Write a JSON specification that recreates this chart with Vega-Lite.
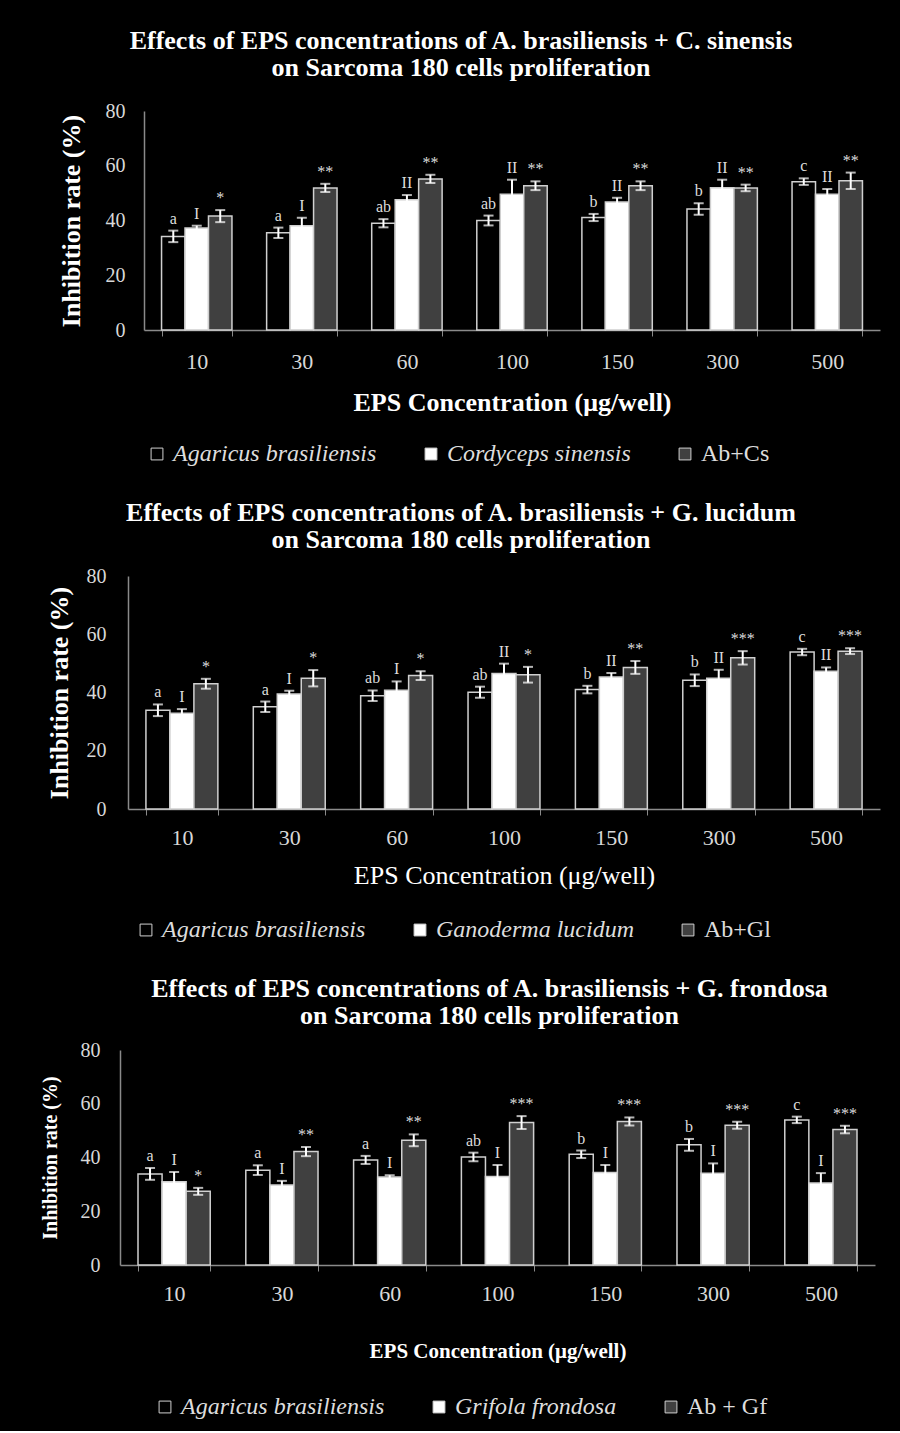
{
  "$schema": "https://vega.github.io/schema/vega-lite/v6.json",
  "background": "black",
  "padding": {"left": 40, "top": 28, "right": 21, "bottom": 12},
  "spacing": 34,
  "config": {
    "view": {"stroke": null},
    "font": "Liberation Serif",
    "title": {"font": "Liberation Serif", "fontWeight": "bold", "fontSize": 26, "color": "white", "lineHeight": 27, "anchor": "middle"},
    "axis": {"domainColor": "#8a8a8a", "domainWidth": 1.5, "labelColor": "#d8d8d8", "labelFont": "Liberation Serif", "titleFont": "Liberation Serif", "titleColor": "white", "grid": false},
    "axisY": {"ticks": false, "labelFontSize": 20, "titleFontWeight": "bold"},
    "axisX": {"tickBand": "extent", "tickColor": "#8a8a8a", "tickSize": 6, "labelAngle": 0, "labelFontSize": 22},
    "legend": {"orient": "none", "direction": "horizontal", "symbolType": "square", "symbolSize": 140, "symbolStrokeColor": "#d0d0d0", "symbolStrokeWidth": 1, "labelFont": "Liberation Serif", "labelFontSize": 24, "labelColor": "#dddddd", "labelLimit": 0, "labelOffset": 4, "columnPadding": 42, "title": null}
  },
  "vconcat": [
    {
      "width": 760, "height": 219,
      "title": {"text": ["Effects of EPS concentrations of A. brasiliensis + C. sinensis", "on  Sarcoma 180 cells proliferation"], "dx": -39, "offset": 20},
      "data": {"values": [
        {"conc": "10", "species": "Agaricus brasiliensis", "mean": 34.2, "lo": 32.1, "hi": 36.3, "sig": "a"},
        {"conc": "10", "species": "Cordyceps sinensis", "mean": 37.3, "lo": 36.5, "hi": 38.1, "sig": "I"},
        {"conc": "10", "species": "Ab+Cs", "mean": 41.6, "lo": 39.4, "hi": 43.8, "sig": "*"},
        {"conc": "30", "species": "Agaricus brasiliensis", "mean": 35.5, "lo": 33.6, "hi": 37.4, "sig": "a"},
        {"conc": "30", "species": "Cordyceps sinensis", "mean": 38.1, "lo": 35.2, "hi": 41.0, "sig": "I"},
        {"conc": "30", "species": "Ab+Cs", "mean": 51.9, "lo": 50.4, "hi": 53.4, "sig": "**"},
        {"conc": "60", "species": "Agaricus brasiliensis", "mean": 39.0, "lo": 37.5, "hi": 40.5, "sig": "ab"},
        {"conc": "60", "species": "Cordyceps sinensis", "mean": 47.6, "lo": 45.9, "hi": 49.3, "sig": "II"},
        {"conc": "60", "species": "Ab+Cs", "mean": 55.2, "lo": 53.7, "hi": 56.7, "sig": "**"},
        {"conc": "100", "species": "Agaricus brasiliensis", "mean": 40.0, "lo": 38.2, "hi": 41.8, "sig": "ab"},
        {"conc": "100", "species": "Cordyceps sinensis", "mean": 49.6, "lo": 44.3, "hi": 54.9, "sig": "II"},
        {"conc": "100", "species": "Ab+Cs", "mean": 52.7, "lo": 51.1, "hi": 54.3, "sig": "**"},
        {"conc": "150", "species": "Agaricus brasiliensis", "mean": 41.1, "lo": 39.8, "hi": 42.4, "sig": "b"},
        {"conc": "150", "species": "Cordyceps sinensis", "mean": 46.8, "lo": 45.3, "hi": 48.3, "sig": "II"},
        {"conc": "150", "species": "Ab+Cs", "mean": 52.7, "lo": 51.1, "hi": 54.3, "sig": "**"},
        {"conc": "300", "species": "Agaricus brasiliensis", "mean": 44.2, "lo": 42.1, "hi": 46.3, "sig": "b"},
        {"conc": "300", "species": "Cordyceps sinensis", "mean": 52.0, "lo": 49.1, "hi": 54.9, "sig": "II"},
        {"conc": "300", "species": "Ab+Cs", "mean": 51.9, "lo": 50.7, "hi": 53.1, "sig": "**"},
        {"conc": "500", "species": "Agaricus brasiliensis", "mean": 54.2, "lo": 53.0, "hi": 55.4, "sig": "c"},
        {"conc": "500", "species": "Cordyceps sinensis", "mean": 49.6, "lo": 47.7, "hi": 51.5, "sig": "II"},
        {"conc": "500", "species": "Ab+Cs", "mean": 54.5, "lo": 51.5, "hi": 57.5, "sig": "**"}
      ]},
      "encoding": {
        "x": {"field": "conc", "type": "nominal", "sort": ["10", "30", "60", "100", "150", "300", "500"], "scale": {"range": [24, 760], "paddingInner": 0.33, "paddingOuter": 0.167}, "axis": {"title": "EPS  Concentration (μg/well)", "titleFontSize": 26, "titleFontWeight": "bold", "labelPadding": 15, "titlePadding": 17}},
        "xOffset": {"field": "species", "type": "nominal", "sort": ["Agaricus brasiliensis", "Cordyceps sinensis", "Ab+Cs"]}
      },
      "layer": [
        {
          "mark": {"type": "bar", "stroke": "#d0d0d0", "strokeWidth": 1.5},
          "encoding": {
            "y": {"field": "mean", "type": "quantitative", "scale": {"domain": [0, 80]}, "axis": {"values": [0, 20, 40, 60, 80], "offset": -24, "labelPadding": 19, "title": "Inhibition rate (%)", "titleFontSize": 26, "titlePadding": 21}},
            "fill": {"field": "species", "type": "nominal", "sort": ["Agaricus brasiliensis", "Cordyceps sinensis", "Ab+Cs"], "scale": {"domain": ["Agaricus brasiliensis", "Cordyceps sinensis", "Ab+Cs"], "range": ["black", "white", "#404040"]},
              "legend": {"legendX": 25, "legendY": 331, "encode": {"labels": {"update": {"fontStyle": {"signal": "datum.label == 'Ab+Cs' ? 'normal' : 'italic'"}}}}}}
          }
        },
        {"mark": {"type": "rule", "color": "white", "strokeWidth": 2}, "encoding": {"y": {"field": "lo", "type": "quantitative"}, "y2": {"field": "hi"}}},
        {"mark": {"type": "tick", "color": "white", "size": 10, "thickness": 2}, "encoding": {"y": {"field": "hi", "type": "quantitative"}}},
        {"mark": {"type": "tick", "color": "white", "size": 10, "thickness": 2}, "encoding": {"y": {"field": "lo", "type": "quantitative"}}},
        {"mark": {"type": "text", "color": "#dddddd", "fontSize": 16, "baseline": "bottom", "dy": -4}, "encoding": {"y": {"field": "hi", "type": "quantitative"}, "text": {"field": "sig"}}}
      ]
    },
    {
      "width": 760, "height": 233,
      "title": {"text": ["Effects of EPS concentrations of A. brasiliensis + G. lucidum", "on  Sarcoma 180 cells proliferation"], "dx": -39, "offset": 13},
      "data": {"values": [
        {"conc": "10", "species": "Agaricus brasiliensis", "mean": 33.9, "lo": 31.9, "hi": 35.9, "sig": "a"},
        {"conc": "10", "species": "Ganoderma lucidum", "mean": 32.9, "lo": 31.5, "hi": 34.3, "sig": "I"},
        {"conc": "10", "species": "Ab+Gl", "mean": 43.0, "lo": 41.3, "hi": 44.7, "sig": "*"},
        {"conc": "30", "species": "Agaricus brasiliensis", "mean": 35.1, "lo": 33.3, "hi": 36.9, "sig": "a"},
        {"conc": "30", "species": "Ganoderma lucidum", "mean": 39.5, "lo": 38.4, "hi": 40.6, "sig": "I"},
        {"conc": "30", "species": "Ab+Gl", "mean": 44.9, "lo": 42.1, "hi": 47.7, "sig": "*"},
        {"conc": "60", "species": "Agaricus brasiliensis", "mean": 38.9, "lo": 37.1, "hi": 40.7, "sig": "ab"},
        {"conc": "60", "species": "Ganoderma lucidum", "mean": 40.8, "lo": 37.8, "hi": 43.8, "sig": "I"},
        {"conc": "60", "species": "Ab+Gl", "mean": 45.8, "lo": 44.3, "hi": 47.3, "sig": "*"},
        {"conc": "100", "species": "Agaricus brasiliensis", "mean": 40.1, "lo": 38.2, "hi": 42.0, "sig": "ab"},
        {"conc": "100", "species": "Ganoderma lucidum", "mean": 46.5, "lo": 43.1, "hi": 49.9, "sig": "II"},
        {"conc": "100", "species": "Ab+Gl", "mean": 46.1, "lo": 43.4, "hi": 48.8, "sig": "*"},
        {"conc": "150", "species": "Agaricus brasiliensis", "mean": 41.0, "lo": 39.7, "hi": 42.3, "sig": "b"},
        {"conc": "150", "species": "Ganoderma lucidum", "mean": 45.3, "lo": 43.9, "hi": 46.7, "sig": "II"},
        {"conc": "150", "species": "Ab+Gl", "mean": 48.6, "lo": 46.4, "hi": 50.8, "sig": "**"},
        {"conc": "300", "species": "Agaricus brasiliensis", "mean": 44.2, "lo": 42.2, "hi": 46.2, "sig": "b"},
        {"conc": "300", "species": "Ganoderma lucidum", "mean": 44.9, "lo": 42.0, "hi": 47.8, "sig": "II"},
        {"conc": "300", "species": "Ab+Gl", "mean": 51.9, "lo": 49.6, "hi": 54.2, "sig": "***"},
        {"conc": "500", "species": "Agaricus brasiliensis", "mean": 53.9, "lo": 52.8, "hi": 55.0, "sig": "c"},
        {"conc": "500", "species": "Ganoderma lucidum", "mean": 47.3, "lo": 46.0, "hi": 48.6, "sig": "II"},
        {"conc": "500", "species": "Ab+Gl", "mean": 54.2, "lo": 53.2, "hi": 55.2, "sig": "***"}
      ]},
      "encoding": {
        "x": {"field": "conc", "type": "nominal", "sort": ["10", "30", "60", "100", "150", "300", "500"], "scale": {"range": [8, 760], "paddingInner": 0.33, "paddingOuter": 0.167}, "axis": {"title": "EPS Concentration (μg/well)", "titleFontSize": 26, "titleFontWeight": "normal", "labelPadding": 12, "titlePadding": 14}},
        "xOffset": {"field": "species", "type": "nominal", "sort": ["Agaricus brasiliensis", "Ganoderma lucidum", "Ab+Gl"]}
      },
      "layer": [
        {
          "mark": {"type": "bar", "stroke": "#d0d0d0", "strokeWidth": 1.5},
          "encoding": {
            "y": {"field": "mean", "type": "quantitative", "scale": {"domain": [0, 80]}, "axis": {"values": [0, 20, 40, 60, 80], "offset": -8, "labelPadding": 22, "title": "Inhibition rate (%)", "titleFontSize": 26, "titlePadding": 14}},
            "fill": {"field": "species", "type": "nominal", "sort": ["Agaricus brasiliensis", "Ganoderma lucidum", "Ab+Gl"], "scale": {"domain": ["Agaricus brasiliensis", "Ganoderma lucidum", "Ab+Gl"], "range": ["black", "white", "#404040"]},
              "legend": {"legendX": 14, "legendY": 342, "encode": {"labels": {"update": {"fontStyle": {"signal": "datum.label == 'Ab+Gl' ? 'normal' : 'italic'"}}}}}}
          }
        },
        {"mark": {"type": "rule", "color": "white", "strokeWidth": 2}, "encoding": {"y": {"field": "lo", "type": "quantitative"}, "y2": {"field": "hi"}}},
        {"mark": {"type": "tick", "color": "white", "size": 10, "thickness": 2}, "encoding": {"y": {"field": "hi", "type": "quantitative"}}},
        {"mark": {"type": "tick", "color": "white", "size": 10, "thickness": 2}, "encoding": {"y": {"field": "lo", "type": "quantitative"}}},
        {"mark": {"type": "text", "color": "#dddddd", "fontSize": 16, "baseline": "bottom", "dy": -4}, "encoding": {"y": {"field": "hi", "type": "quantitative"}, "text": {"field": "sig"}}}
      ]
    },
    {
      "width": 755, "height": 215,
      "title": {"text": ["Effects of EPS concentrations of A. brasiliensis + G. frondosa", "on  Sarcoma 180 cells proliferation"], "dx": -8, "offset": 11},
      "data": {"values": [
        {"conc": "10", "species": "Agaricus brasiliensis", "mean": 33.9, "lo": 31.7, "hi": 36.1, "sig": "a"},
        {"conc": "10", "species": "Grifola frondosa", "mean": 31.0, "lo": 27.4, "hi": 34.6, "sig": "I"},
        {"conc": "10", "species": "Ab + Gf", "mean": 27.4, "lo": 26.1, "hi": 28.7, "sig": "*"},
        {"conc": "30", "species": "Agaricus brasiliensis", "mean": 35.3, "lo": 33.5, "hi": 37.1, "sig": "a"},
        {"conc": "30", "species": "Grifola frondosa", "mean": 29.8, "lo": 28.3, "hi": 31.3, "sig": "I"},
        {"conc": "30", "species": "Ab + Gf", "mean": 42.2, "lo": 40.5, "hi": 43.9, "sig": "**"},
        {"conc": "60", "species": "Agaricus brasiliensis", "mean": 39.1, "lo": 37.6, "hi": 40.6, "sig": "a"},
        {"conc": "60", "species": "Grifola frondosa", "mean": 32.7, "lo": 32.0, "hi": 33.4, "sig": "I"},
        {"conc": "60", "species": "Ab + Gf", "mean": 46.4, "lo": 44.2, "hi": 48.6, "sig": "**"},
        {"conc": "100", "species": "Agaricus brasiliensis", "mean": 40.2, "lo": 38.6, "hi": 41.8, "sig": "ab"},
        {"conc": "100", "species": "Grifola frondosa", "mean": 32.9, "lo": 28.6, "hi": 37.2, "sig": "I"},
        {"conc": "100", "species": "Ab + Gf", "mean": 53.0, "lo": 50.6, "hi": 55.4, "sig": "***"},
        {"conc": "150", "species": "Agaricus brasiliensis", "mean": 41.2, "lo": 39.8, "hi": 42.6, "sig": "b"},
        {"conc": "150", "species": "Grifola frondosa", "mean": 34.4, "lo": 31.6, "hi": 37.2, "sig": "I"},
        {"conc": "150", "species": "Ab + Gf", "mean": 53.4, "lo": 51.9, "hi": 54.9, "sig": "***"},
        {"conc": "300", "species": "Agaricus brasiliensis", "mean": 44.7, "lo": 42.5, "hi": 46.9, "sig": "b"},
        {"conc": "300", "species": "Grifola frondosa", "mean": 34.1, "lo": 30.4, "hi": 37.8, "sig": "I"},
        {"conc": "300", "species": "Ab + Gf", "mean": 52.0, "lo": 50.7, "hi": 53.3, "sig": "***"},
        {"conc": "500", "species": "Agaricus brasiliensis", "mean": 54.0, "lo": 52.8, "hi": 55.2, "sig": "c"},
        {"conc": "500", "species": "Grifola frondosa", "mean": 30.5, "lo": 26.8, "hi": 34.2, "sig": "I"},
        {"conc": "500", "species": "Ab + Gf", "mean": 50.4, "lo": 49.0, "hi": 51.8, "sig": "***"}
      ]},
      "encoding": {
        "x": {"field": "conc", "type": "nominal", "sort": ["10", "30", "60", "100", "150", "300", "500"], "scale": {"paddingInner": 0.33, "paddingOuter": 0.167}, "axis": {"title": "EPS Concentration (μg/well)", "titleFontSize": 21, "titleFontWeight": "bold", "labelPadding": 12, "titlePadding": 36}},
        "xOffset": {"field": "species", "type": "nominal", "sort": ["Agaricus brasiliensis", "Grifola frondosa", "Ab + Gf"]}
      },
      "layer": [
        {
          "mark": {"type": "bar", "stroke": "#d0d0d0", "strokeWidth": 1.5},
          "encoding": {
            "y": {"field": "mean", "type": "quantitative", "scale": {"domain": [0, 80]}, "axis": {"values": [0, 20, 40, 60, 80], "labelPadding": 20, "title": "Inhibition rate (%)", "titleFontSize": 20, "titlePadding": 20}},
            "fill": {"field": "species", "type": "nominal", "sort": ["Agaricus brasiliensis", "Grifola frondosa", "Ab + Gf"], "scale": {"domain": ["Agaricus brasiliensis", "Grifola frondosa", "Ab + Gf"], "range": ["black", "white", "#404040"]},
              "legend": {"legendX": 33, "legendY": 345, "encode": {"labels": {"update": {"fontStyle": {"signal": "datum.label == 'Ab + Gf' ? 'normal' : 'italic'"}}}}}}
          }
        },
        {"mark": {"type": "rule", "color": "white", "strokeWidth": 2}, "encoding": {"y": {"field": "lo", "type": "quantitative"}, "y2": {"field": "hi"}}},
        {"mark": {"type": "tick", "color": "white", "size": 10, "thickness": 2}, "encoding": {"y": {"field": "hi", "type": "quantitative"}}},
        {"mark": {"type": "tick", "color": "white", "size": 10, "thickness": 2}, "encoding": {"y": {"field": "lo", "type": "quantitative"}}},
        {"mark": {"type": "text", "color": "#dddddd", "fontSize": 16, "baseline": "bottom", "dy": -4}, "encoding": {"y": {"field": "hi", "type": "quantitative"}, "text": {"field": "sig"}}}
      ]
    }
  ],
  "resolve": {"scale": {"fill": "independent", "x": "independent", "y": "independent", "xOffset": "independent"}, "legend": {"fill": "independent"}}
}
